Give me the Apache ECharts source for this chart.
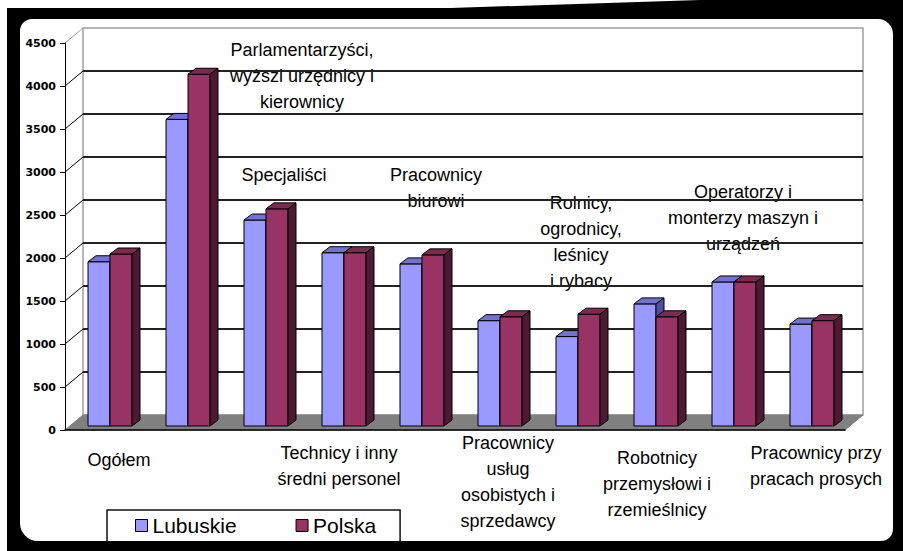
<!DOCTYPE html>
<html>
<head>
<meta charset="utf-8">
<script src="https://cdn.jsdelivr.net/npm/echarts@6/dist/echarts.min.js"></script>
<style>
  html, body { margin: 0; padding: 0; background: #000; }
  #chart { width: 903px; height: 551px; }
</style>
</head>
<body>
<div id="chart"></div>
<script>
// grupy zawodowe
const categories = [
  'Ogółem',
  'Parlamentarzyści,\nwyższi urzędnicy i\nkierownicy',
  'Specjaliści',
  'Technicy i inny\nśredni personel',
  'Pracownicy\nbiurowi',
  'Pracownicy\nusług\nosobistych i\nsprzedawcy',
  'Rolnicy,\nogrodnicy,\nleśnicy\ni rybacy',
  'Robotnicy\nprzemysłowi i\nrzemieślnicy',
  'Operatorzy i\nmonterzy maszyn i\nurządzeń',
  'Pracownicy przy\npracach prosych'
]
const lubuskie = [1910, 3565, 2395, 2015, 1885, 1225, 1040, 1420, 1675, 1185]
const polska = [2000, 4090, 2525, 2015, 1990, 1270, 1300, 1270, 1675, 1225]
const yTicks = [0, 500, 1000, 1500, 2000, 2500, 3000, 3500, 4000, 4500]

// where each category caption sits (px, centre of first line) - layout only
const labelPos = [
  [119, 460], [302, 50], [284, 175], [339, 453], [436, 175],
  [508, 443], [581, 203], [657, 458], [743, 192], [816, 453]
]

const DEPTH = [18, -15]    // front -> back wall
const BAR_DEPTH = [8, -6]
const BAR_FRAC = 22 / 78

const COLORS = {
  lub: { front: '#9999ff', top: '#7272d2', side: '#4f4fa0' },
  pol: { front: '#993366', top: '#7d2a53', side: '#4c1a33' }
}

const chart = echarts.init(document.getElementById('chart'), null, { renderer: 'svg' })

function wallRenderer(params, api) {
  const cs = params.coordSys
  const v = api.value(1)
  const y = api.coord([0, v])[1]
  const children = []
  if (params.dataIndex === 0) {
    const yb = cs.y + cs.height
    children.push({
      type: 'polygon',
      shape: { points: [
        [cs.x, yb], [cs.x + cs.width, yb],
        [cs.x + cs.width + DEPTH[0], yb + DEPTH[1]], [cs.x + DEPTH[0], yb + DEPTH[1]]
      ] },
      style: { fill: '#808080', stroke: '#808080', lineWidth: 1 }
    })
  }
  if (v > 0) {
    children.push({
      type: 'line',
      shape: { x1: cs.x, y1: y, x2: cs.x + DEPTH[0], y2: y + DEPTH[1] },
      style: { stroke: v === yTicks[yTicks.length - 1] ? '#a0a0a0' : '#000', lineWidth: 1 }
    })
  }
  return { type: 'group', children }
}

function barRenderer(side, c) {
  return function (params, api) {
    const i = api.value(0)
    const p = api.coord([i, api.value(1)])
    const base = api.coord([i, 0])[1]
    const w = api.size([1, 0])[0] * BAR_FRAC
    const x0 = side === 0 ? p[0] - w : p[0]
    const x1 = x0 + w
    const yt = p[1]
    const [dx, dy] = BAR_DEPTH
    const st = { stroke: '#000', lineWidth: 1, lineJoin: 'miter' }
    return {
      type: 'group',
      children: [
        { type: 'rect', shape: { x: x0, y: yt, width: w, height: base - yt }, style: Object.assign({ fill: c.front }, st) },
        { type: 'polygon', shape: { points: [[x0, yt], [x1, yt], [x1 + dx, yt + dy], [x0 + dx, yt + dy]] }, style: Object.assign({ fill: c.top }, st) },
        { type: 'polygon', shape: { points: [[x1, yt], [x1 + dx, yt + dy], [x1 + dx, base + dy], [x1, base]] }, style: Object.assign({ fill: c.side }, st) }
      ]
    }
  }
}

const captions = categories.map((txt, i) => ({
  type: 'text',
  z: 0,
  x: labelPos[i][0],
  y: labelPos[i][1] - 13,
  style: {
    text: txt,
    fill: '#000',
    font: '18px "Liberation Sans", Arial, sans-serif',
    align: 'center',
    verticalAlign: 'top',
    lineHeight: 26
  }
}))

const option = {
  animation: false,
  backgroundColor: '#fff',
  grid: [
    { left: 65, top: 43, right: 58, bottom: 121 },
    { left: 83, top: 28, right: 40, bottom: 136, show: true, borderColor: '#a0a0a0', borderWidth: 1.5, backgroundColor: 'transparent' },
    { left: 71, top: 39, right: 52, bottom: 125 }
  ],
  xAxis: [
    { gridIndex: 0, type: 'category', data: categories, z: 4,
      axisLine: { show: true, lineStyle: { color: '#000', width: 1.5 } },
      axisTick: { show: false }, axisLabel: { show: false } },
    { gridIndex: 1, type: 'category', data: categories, show: false },
    { gridIndex: 2, type: 'category', data: categories, show: false }
  ],
  yAxis: [
    { gridIndex: 0, type: 'value', min: 0, max: 4500, interval: 500, z: 4,
      axisLine: { show: true, lineStyle: { color: '#000', width: 1 } },
      axisTick: { show: true, length: 5, lineStyle: { color: '#000' } },
      axisLabel: { margin: 9, color: '#000', fontFamily: 'DejaVu Sans', fontWeight: 'bold', fontSize: 11,
        formatter: v => String(v) },
      splitLine: { show: false } },
    { gridIndex: 1, type: 'value', min: 0, max: 4500, interval: 500, z: 1,
      axisLine: { show: false }, axisTick: { show: false }, axisLabel: { show: false },
      splitLine: { show: true, showMinLine: false, showMaxLine: false, lineStyle: { color: '#222', width: 2 } } },
    { gridIndex: 2, type: 'value', min: 0, max: 4500, interval: 500, show: false }
  ],
  legend: {
    data: ['Lubuskie', 'Polska'],
    left: 107, top: 510,
    padding: [5, 24, 30, 28],
    itemGap: 59,
    itemWidth: 12, itemHeight: 12,
    icon: 'rect',
    itemStyle: { borderColor: '#000', borderWidth: 1 },
    backgroundColor: '#fff',
    borderColor: '#111', borderWidth: 1.5,
    textStyle: { fontFamily: 'Liberation Sans', fontSize: 21, color: '#000' },
    z: 5
  },
  series: [
    { type: 'custom', name: 'walls', xAxisIndex: 0, yAxisIndex: 0, z: 2, silent: true,
      renderItem: wallRenderer, data: yTicks.map(v => [0, v]) },
    { type: 'custom', name: 'Lubuskie', xAxisIndex: 2, yAxisIndex: 2, z: 3,
      itemStyle: { color: COLORS.lub.front },
      renderItem: barRenderer(0, COLORS.lub), data: lubuskie.map((v, i) => [i, v]) },
    { type: 'custom', name: 'Polska', xAxisIndex: 2, yAxisIndex: 2, z: 3,
      itemStyle: { color: COLORS.pol.front },
      renderItem: barRenderer(1, COLORS.pol), data: polska.map((v, i) => [i, v]) }
  ],
  graphic: captions.concat([
    { type: 'rect', z: 100, silent: true,
      shape: { x: 0, y: -1, width: 913, height: 562, r: [32, 35, 32, 38] },
      style: { fill: 'none', stroke: '#000', lineWidth: 40 } },
    { type: 'rect', z: 101, silent: true, shape: { x: 0, y: 0, width: 7, height: 551 }, style: { fill: '#fff' } },
    { type: 'polygon', z: 101, silent: true, shape: { points: [[0, 0], [700, 0], [450, 8], [0, 8]] }, style: { fill: '#fff' } }
  ])
}

chart.setOption(option)
</script>
</body>
</html>
